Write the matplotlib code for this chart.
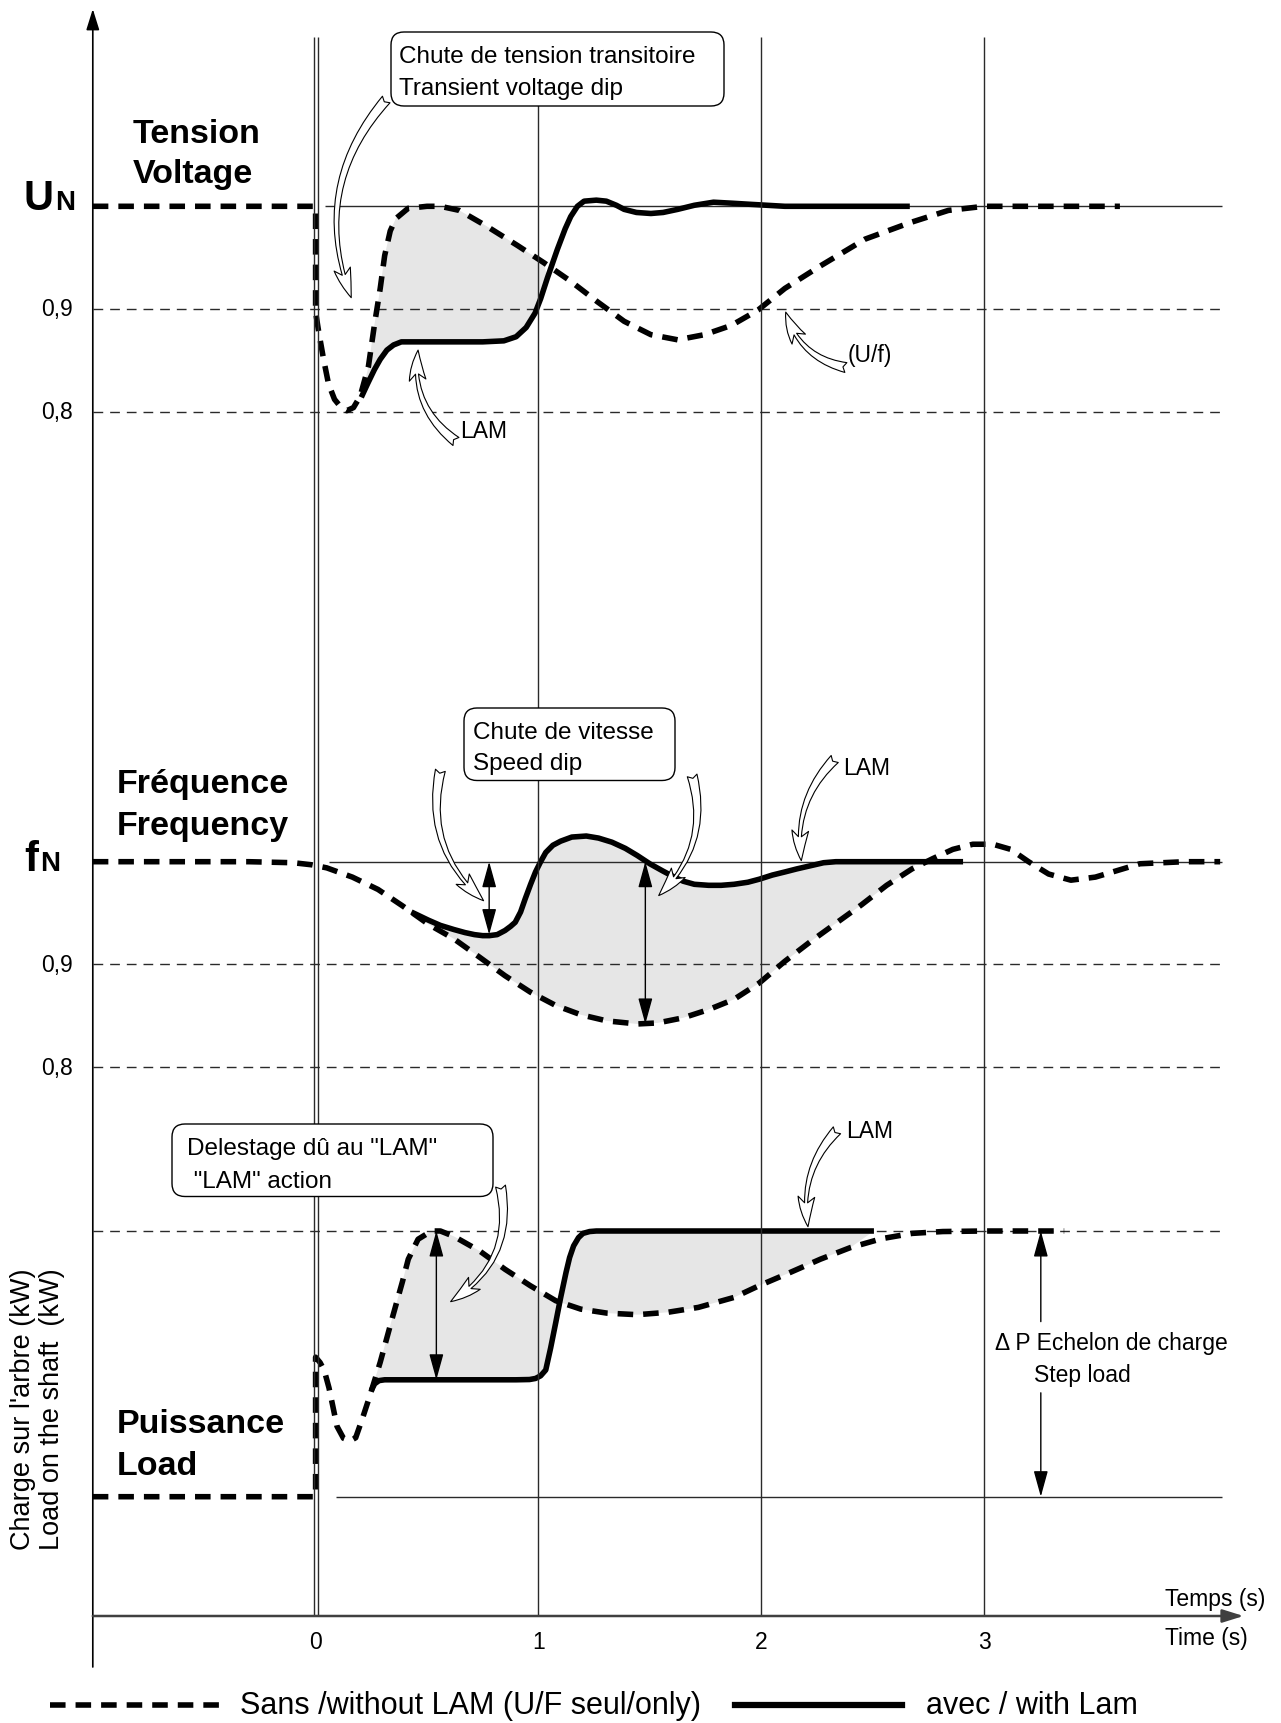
import numpy as np
import matplotlib.pyplot as plt
import matplotlib.transforms as mtransforms
from matplotlib.patches import FancyBboxPatch

plt.rcParams['font.family'] = ['Liberation Sans', 'DejaVu Sans']

# ---------------- data ----------------
# Tension / Voltage (per unit of UN)
volt_t_sans = [-1.0, 0.0, 0.0, 0.013, 0.035, 0.058, 0.085, 0.115, 0.14, 0.17, 0.2, 0.237,
               0.265, 0.29, 0.31, 0.335, 0.36, 0.415, 0.5, 0.56, 0.645, 0.765, 0.905, 1.025,
               1.145, 1.265, 1.385, 1.505, 1.625, 1.745, 1.866, 1.986, 2.106, 2.266, 2.466,
               2.667, 2.84, 3.0, 3.3, 3.61]
volt_sans = [1.0, 1.0, 0.897, 0.879, 0.852, 0.827, 0.812, 0.804, 0.801, 0.804, 0.815, 0.844,
             0.886, 0.92, 0.952, 0.976, 0.988, 0.998, 1.0, 1.0, 0.996, 0.981, 0.962, 0.945,
             0.927, 0.907, 0.888, 0.875, 0.87, 0.875, 0.884, 0.899, 0.92, 0.942, 0.968,
             0.984, 0.996, 1.0, 1.0, 1.0]
volt_t_lam = [0.205, 0.235, 0.264, 0.29, 0.32, 0.35, 0.385, 0.45, 0.6, 0.75, 0.845, 0.9,
              0.945, 0.985, 1.01, 1.04, 1.085, 1.12, 1.145, 1.175, 1.205, 1.26, 1.305, 1.35,
              1.385, 1.44, 1.505, 1.56, 1.625, 1.7, 1.786, 1.87, 1.946, 2.106, 2.4, 2.667]
volt_lam = [0.814, 0.828, 0.841, 0.851, 0.86, 0.865, 0.868, 0.868, 0.868, 0.868, 0.869, 0.873,
            0.882, 0.896, 0.91, 0.93, 0.958, 0.978, 0.99, 1.0, 1.005, 1.006, 1.005, 1.001,
            0.997, 0.994, 0.993, 0.994, 0.997, 1.001, 1.004, 1.003, 1.002, 1.0, 1.0, 1.0]

# Frequence / Frequency (per unit of fN)
freq_t_sans = [-1.0, -0.3, -0.1, -0.018, 0.05, 0.165, 0.28, 0.39, 0.507, 0.62, 0.736, 0.85,
               0.964, 1.078, 1.19, 1.307, 1.444, 1.535, 1.65, 1.764, 1.878, 1.992, 2.106,
               2.22, 2.335, 2.45, 2.563, 2.677, 2.77, 2.86, 2.95, 3.04, 3.12, 3.2, 3.29,
               3.39, 3.5, 3.7, 3.9, 4.06]
freq_sans = [1.0, 1.0, 0.999, 0.997, 0.994, 0.985, 0.973, 0.957, 0.939, 0.925, 0.907, 0.889,
             0.873, 0.86, 0.851, 0.845, 0.842, 0.843, 0.848, 0.856, 0.866, 0.882, 0.903,
             0.922, 0.94, 0.958, 0.977, 0.993, 1.003, 1.012, 1.017, 1.017, 1.012, 1.0, 0.988,
             0.982, 0.985, 0.998, 1.0, 1.0]
freq_t_lam = [0.43, 0.507, 0.56, 0.62, 0.67, 0.713, 0.75, 0.78, 0.815, 0.85, 0.875, 0.896,
              0.92, 0.941, 0.965, 0.987, 1.01, 1.033, 1.065, 1.1, 1.15, 1.215, 1.27, 1.33,
              1.39, 1.444, 1.5, 1.558, 1.61, 1.65, 1.7, 1.764, 1.82, 1.878, 1.94, 1.992,
              2.05, 2.106, 2.16, 2.22, 2.28, 2.335, 2.5, 2.7, 2.906]
freq_lam = [0.951, 0.943, 0.938, 0.934, 0.931, 0.929, 0.928, 0.928, 0.929, 0.933, 0.937, 0.941,
            0.951, 0.964, 0.978, 0.99, 1.0, 1.009, 1.016, 1.02, 1.024, 1.025, 1.023, 1.019,
            1.013, 1.006, 0.998, 0.991, 0.985, 0.981, 0.978, 0.977, 0.977, 0.978, 0.98, 0.983,
            0.987, 0.99, 0.993, 0.996, 0.999, 1.0, 1.0, 1.0, 1.0]

# Puissance / Load (fraction of the step load dP)
load_t_sans = [-1.0, 0.0, 0.0, 0.02, 0.039, 0.06, 0.075, 0.096, 0.125, 0.155, 0.18, 0.21,
               0.244, 0.29, 0.347, 0.39, 0.416, 0.46, 0.52, 0.56, 0.62, 0.736, 0.85, 0.964,
               1.078, 1.19, 1.307, 1.444, 1.58, 1.718, 1.878, 1.99, 2.13, 2.266, 2.4, 2.54,
               2.677, 2.815, 3.0, 3.36]
load_sans = [0.0, 0.0, 0.525, 0.505, 0.475, 0.41, 0.35, 0.265, 0.22, 0.21, 0.222, 0.294,
             0.381, 0.506, 0.681, 0.81, 0.894, 0.969, 1.0, 1.0, 0.98, 0.925, 0.856, 0.794,
             0.7375, 0.706, 0.691, 0.685, 0.694, 0.7125, 0.75, 0.794, 0.844, 0.894, 0.9375,
             0.971, 0.991, 0.998, 1.0, 1.0]
load_t_lam = [0.25, 0.265, 0.285, 0.31, 0.5, 0.7, 0.9, 0.96, 0.987, 1.01, 1.033, 1.055, 1.078,
              1.1, 1.124, 1.14, 1.158, 1.18, 1.2, 1.23, 1.26, 1.6, 2.0, 2.506]
load_lam = [0.40, 0.425, 0.437, 0.44, 0.44, 0.44, 0.44, 0.441, 0.445, 0.455, 0.477, 0.56, 0.656,
            0.75, 0.844, 0.9, 0.944, 0.975, 0.991, 0.998, 1.0, 1.0, 1.0, 1.0]

levels = [0.9, 0.8]
level_labels = ['0,9', '0,8']
time_ticks = [0, 1, 2, 3]

# ---------------- layout ----------------
W, H = 1281, 1724
fig = plt.figure(figsize=(W / 100, H / 100), dpi=100)

T0_PX, PX_PER_S = 315.6, 222.8      # t = 0 position and pixels per second
XLIM = (-T0_PX / PX_PER_S, (W - T0_PX) / PX_PER_S)
T_END = 4.07
AXIS_Y = 1617

GREY = '#e6e6e6'
LINE = '#2a2a2a'
THICK_DASH = (0, (2.8, 1.8))
THIN_DASH = (0, (7, 5))


def overlay(ylim, z):
    ax = fig.add_axes([0, 0, 1, 1])
    ax.set_xlim(*XLIM)
    ax.set_ylim(*ylim)
    ax.axis('off')
    ax.patch.set_alpha(0)
    ax.set_zorder(z)
    return ax


def panel(ref_px, ref_val, px_per_unit):
    return overlay((ref_val - (H - ref_px) / px_per_unit, ref_val + ref_px / px_per_unit), 1)


ax_u = panel(207.3, 1.0, 1027)     # voltage
ax_f = panel(862.7, 1.0, 1027)     # frequency
ax_p = panel(1497.7, 0.0, 265.7)   # load
ax_t = overlay((H, 0), 2)          # time axis vs pixel rows
ax_px = fig.add_axes([0, 0, 1, 1])
ax_px.set_xlim(0, W)
ax_px.set_ylim(H, 0)
ax_px.axis('off')
ax_px.patch.set_alpha(0)
ax_px.set_zorder(3)


def fill_gap(ax, ta, ya, tb, yb, lo, hi):
    ta, ya, tb, yb = map(np.asarray, (ta, ya, tb, yb))
    ma = (ta >= lo) & (ta <= hi)
    mb = (tb >= lo) & (tb <= hi)
    xs = np.concatenate([ta[ma], tb[mb][::-1]])
    ys = np.concatenate([ya[ma], yb[mb][::-1]])
    ax.fill(xs, ys, color=GREY, lw=0, zorder=1)


def curves(ax, ts, ys, tl, yl):
    ax.plot(ts, ys, color='black', lw=4, ls=THICK_DASH, dash_capstyle='butt',
            dash_joinstyle='round', zorder=4)
    ax.plot(tl, yl, color='black', lw=4, solid_capstyle='butt',
            solid_joinstyle='round', zorder=5)


def hollow_arrow(ax, tail, tip, rad):
    ax.annotate('', xy=tip, xytext=tail,
                arrowprops=dict(arrowstyle='fancy,head_length=0.9,head_width=0.5,tail_width=0.3',
                                fc='white', ec='black', lw=0.8, mutation_scale=24,
                                shrinkA=0, shrinkB=0,
                                connectionstyle='arc3,rad=%s' % rad), zorder=6)


def dim_arrow(ax, x, y0, y1, style='<|-|>'):
    ax.annotate('', xy=(x, y1), xytext=(x, y0),
                arrowprops=dict(arrowstyle=style + ',head_length=0.8,head_width=0.22',
                                mutation_scale=20, lw=1, color='black',
                                shrinkA=0, shrinkB=0), zorder=6)


# ---------------- panels ----------------
for ax in (ax_u, ax_f):
    ax.hlines(levels, -1.0, T_END, colors=LINE, lw=1, linestyles=THIN_DASH)
    blend = mtransforms.blended_transform_factory(ax_px.transData, ax.transData)
    for lv, lab in zip(levels, level_labels):
        ax.text(73, lv, lab, transform=blend, ha='right', va='center', fontsize=16.5)

ax_u.hlines(1.0, 0.044, T_END, colors=LINE, lw=1)
ax_f.hlines(1.0, 0.06, T_END, colors=LINE, lw=1)
ax_p.hlines(1.0, -1.0, T_END, colors=LINE, lw=1, linestyles=THIN_DASH)
ax_p.hlines(0.0, 0.09, T_END, colors=LINE, lw=1)

fill_gap(ax_u, volt_t_sans, volt_sans, volt_t_lam, volt_lam, 0.205, 1.06)
fill_gap(ax_f, freq_t_sans, freq_sans, freq_t_lam, freq_lam, 0.43, 2.75)
fill_gap(ax_p, load_t_sans, load_sans, load_t_lam, load_lam, 0.25, 2.51)

curves(ax_u, volt_t_sans, volt_sans, volt_t_lam, volt_lam)
curves(ax_f, freq_t_sans, freq_sans, freq_t_lam, freq_lam)
curves(ax_p, load_t_sans, load_sans, load_t_lam, load_lam)

# dimension arrows
dim_arrow(ax_f, 0.779, 1.0, 0.929)
dim_arrow(ax_f, 1.48, 1.0, 0.842)
dim_arrow(ax_p, 0.542, 1.0, 0.44)
dim_arrow(ax_p, 3.255, 0.659, 1.0, '-|>')
dim_arrow(ax_p, 3.255, 0.391, 0.0, '-|>')

# pointer arrows + labels
hollow_arrow(ax_u, (0.317, 1.104), (0.16, 0.911), 0.3)
hollow_arrow(ax_u, (0.63, 0.771), (0.46, 0.860), -0.3)
ax_u.text(0.647, 0.782, 'LAM', fontsize=16.5, va='center')
hollow_arrow(ax_u, (2.38, 0.843), (2.11, 0.897), -0.3)
ax_u.text(2.39, 0.856, '(U/f)', fontsize=16.5, va='center')

hollow_arrow(ax_f, (0.56, 1.089), (0.754, 0.962), 0.3)
hollow_arrow(ax_f, (1.69, 1.084), (1.54, 0.967), -0.3)
hollow_arrow(ax_f, (2.33, 1.10), (2.18, 1.001), 0.25)
ax_f.text(2.366, 1.0915, 'LAM', fontsize=16.5, va='center')

hollow_arrow(ax_p, (0.83, 1.169), (0.606, 0.734), -0.35)
hollow_arrow(ax_p, (2.34, 1.379), (2.21, 1.016), 0.25)
ax_p.text(2.38, 1.378, 'LAM', fontsize=16.5, va='center')

# ---------------- time axis and grid ----------------
ax_t.vlines(time_ticks[1:], 38, AXIS_Y, colors=LINE, lw=1)
ax_t.vlines([-0.009, 0.009], 38, AXIS_Y, colors=LINE, lw=1)
ax_t.annotate('', xy=(-1.0, 10), xytext=(-1.0, 1668),
              arrowprops=dict(arrowstyle='-|>,head_length=0.8,head_width=0.25',
                              mutation_scale=16, lw=1.2, color='black', shrinkA=0, shrinkB=0))
ax_t.annotate('', xy=(4.165, AXIS_Y), xytext=(-1.0, AXIS_Y),
              arrowprops=dict(arrowstyle='-|>,head_length=0.8,head_width=0.25',
                              mutation_scale=16, lw=1.8, color='#404040', shrinkA=0, shrinkB=0))
for t in time_ticks:
    ax_t.text(t, 1643, str(t), ha='center', va='center', fontsize=16.5)

# ---------------- texts ----------------
big = dict(fontsize=24.5, fontweight='bold', va='baseline')
ax_px.text(133, 143, 'Tension', **big)
ax_px.text(133, 183, 'Voltage', **big)
ax_px.text(117, 793, 'Fréquence', **big)
ax_px.text(117, 835, 'Frequency', **big)
ax_px.text(117, 1433, 'Puissance', **big)
ax_px.text(117, 1475, 'Load', **big)

ax_px.text(24, 210, 'U', fontsize=30, fontweight='bold', va='baseline')
ax_px.text(55, 210, 'N', fontsize=20, fontweight='bold', va='baseline')
ax_px.text(24, 871, 'f', fontsize=30, fontweight='bold', va='baseline')
ax_px.text(40, 871, 'N', fontsize=20, fontweight='bold', va='baseline')

ax_px.text(23, 1409, "Charge sur l'arbre (kW)", rotation=90, ha='center', va='center', fontsize=19.5)
ax_px.text(52, 1409, "Load on the shaft  (kW)", rotation=90, ha='center', va='center', fontsize=19.5)

ax_px.text(995, 1350, 'Δ P Echelon de charge', fontsize=16.5, va='baseline')
ax_px.text(1034, 1382, 'Step load', fontsize=16.5, va='baseline')

ax_px.text(1165, 1606, 'Temps (s)', fontsize=16.5, va='baseline')
ax_px.text(1165, 1645, 'Time (s)', fontsize=16.5, va='baseline')

# callout boxes
boxes = [
    ((391, 33, 333, 74), ['Chute de tension transitoire', 'Transient voltage dip'], 399, [63, 95]),
    ((464, 709, 211, 72.5), ['Chute de vitesse', 'Speed dip'], 473, [739, 770]),
    ((172, 1125, 321, 72.5), ['Delestage dû au "LAM"', ' "LAM" action'], 187, [1155, 1188]),
]
for (bx, by, bw, bh), lines, tx, tys in boxes:
    ax_px.add_patch(FancyBboxPatch((bx, by), bw, bh, boxstyle='round,pad=0,rounding_size=13',
                                   fc='white', ec='black', lw=1))
    for line, ty in zip(lines, tys):
        ax_px.text(tx, ty, line, fontsize=17.5, va='baseline')

# legend
ax_px.plot([50, 220], [1706, 1706], color='black', lw=4, ls=THICK_DASH, dash_capstyle='butt')
ax_px.text(240, 1706, 'Sans /without LAM (U/F seul/only)', fontsize=22, va='center')
ax_px.plot([735, 902], [1706, 1706], color='black', lw=4.5)
ax_px.text(926, 1706, 'avec / with Lam', fontsize=22, va='center')

fig.savefig('out.png', dpi=100, facecolor='white')
